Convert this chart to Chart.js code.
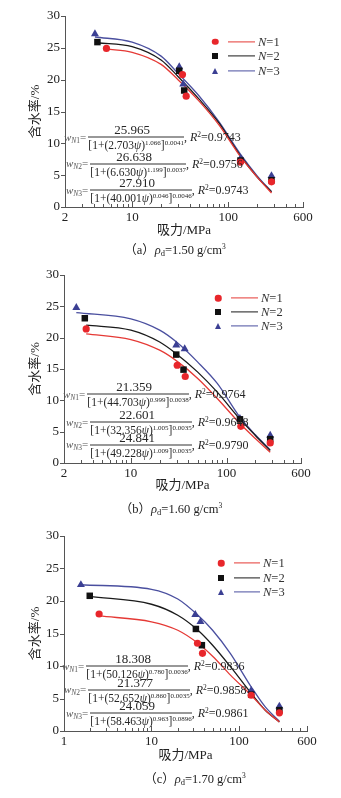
<!DOCTYPE html>
<html>
<head>
<meta charset="utf-8">
<script src="https://cdn.jsdelivr.net/npm/chart.js@4.4.1/dist/chart.umd.min.js"></script>
<style>
  html, body { margin: 0; padding: 0; background: #fff; }
  #wrap { position: relative; width: 341px; height: 798px; overflow: hidden; }
  .panel { position: absolute; left: 0; width: 341px; }
  .panel canvas { position: absolute; left: 0; top: 0; }
  .abs { position: absolute; white-space: nowrap; }
  .eq { display: flex; align-items: center; transform: translateY(-50%);
        font-family: 'Liberation Serif', serif; color: #262626; }
  .lhs { font-size: 11px; margin-right: 2px; color: #555; }
  .lhs sub { font-size: 7.5px; vertical-align: -2px; }
  .frac { display: inline-flex; flex-direction: column; align-items: center; }
  .num { font-size: 13px; line-height: 12px; padding-bottom: 1px; margin-right: 8px; }
  .den { font-size: 11.5px; line-height: 12px; border-top: 1px solid #333; padding-top: 1px; }
  .den sup { font-size: 7px; vertical-align: 4px; line-height: 0; }
  .r2 { font-size: 12px; }
  .r2 sup { font-size: 7.5px; vertical-align: 4px; line-height: 0; }
  .cap { transform: translate(-50%, -50%); font-family: 'Liberation Serif', 'Noto Sans CJK SC', serif;
         font-size: 12.5px; color: #222; }
  .cap sub { font-size: 8.5px; vertical-align: -2px; }
  .cap sup { font-size: 7.5px; vertical-align: 5px; line-height: 0; }
  .lgtext { transform: translateY(-50%); font-family: 'Liberation Serif', serif; font-size: 12.5px; color: #333; }
  .lgline { height: 1.2px; transform: translateY(-50%); }
  .mk { transform: translate(-50%, -50%); }
</style>
</head>
<body>
<div id="wrap"></div>
<script>
// x tick positions and labelled ticks
const xTicks2 = [2, 3, 4, 5, 6, 7, 8, 9, 10, 20, 30, 40, 50, 60, 70, 80, 90, 100, 200, 300, 400, 500, 600];
const xLabels2 = [2, 10, 100, 600];
const xTicks1 = [1, 2, 3, 4, 5, 6, 7, 8, 9, 10, 20, 30, 40, 50, 60, 70, 80, 90, 100, 200, 300, 400, 500, 600];
const xLabels1 = [1, 10, 100, 600];
const seriesNames = ['N=1', 'N=2', 'N=3'];

// (a) rho_d = 1.50 : measured points [N=1, N=2, N=3]
const ptXA = [[5.4, 33.4, 36.5, 134, 282], [4.35, 30.9, 34.8, 134, 282], [4.1, 30.9, 34, 134, 282]];
const ptYA = [[24.9, 20.8, 17.4, 7.05, 3.95], [25.9, 21.4, 18.3, 7.3, 4.2], [27.2, 22.0, 19.3, 7.6, 4.9]];
// (a) fitted curves
const fitXA = [[5.4, 10, 20, 30, 50, 80, 134, 200, 282], [4.35, 10, 20, 30, 50, 80, 134, 200, 282], [4.1, 10, 20, 30, 50, 80, 134, 200, 282]];
const fitYA = [[24.8, 24.3, 22.4, 20.0, 16.6, 12.9, 7.9, 4.7, 2.2], [25.8, 25.2, 23.1, 20.5, 16.9, 13.2, 8.05, 4.7, 2.4], [26.7, 25.9, 23.7, 21.0, 17.4, 13.4, 8.3, 4.9, 2.4]];
const eqA = [['25.965', '2.703', '1.066', '0.0041', '0.9743'], ['26.638', '6.630', '1.199', '0.0037', '0.9756'], ['27.910', '40.001', '0.046', '0.0046', '0.9743']];

// (b) rho_d = 1.60
const ptXB = [[3.41, 30.5, 37, 141, 286], [3.3, 29.8, 35.5, 138, 286], [2.69, 29.8, 36.5, 138, 286]];
const ptYB = [[21.4, 15.6, 13.8, 5.85, 3.2], [23.1, 17.3, 14.9, 6.97, 3.8], [24.8, 18.8, 18.2, 7.1, 4.4]];
const fitXB = [[3.41, 10, 20, 30, 50, 80, 138, 200, 286], [3.41, 10, 20, 30, 50, 80, 138, 200, 286], [2.69, 10, 20, 30, 50, 80, 138, 200, 286]];
const fitYB = [[20.6, 19.7, 18.0, 16.3, 13.5, 10.3, 6.3, 3.9, 1.7], [22.0, 21.2, 19.3, 17.4, 14.5, 11.3, 7.0, 4.4, 2.0], [24.0, 23.0, 21.2, 19.3, 16.1, 12.7, 7.3, 4.5, 2.1]];
const eqB = [['21.359', '44.703', '0.999', '0.0038', '0.9764'], ['22.601', '32.356', '1.005', '0.0035', '0.9648'], ['24.841', '49.228', '1.009', '0.0035', '0.9790']];

// (c) rho_d = 1.70
const ptXC = [[2.52, 33.6, 38.3, 138, 290], [1.97, 32.2, 37.7, 138, 290], [1.56, 31.7, 36.3, 138, 290]];
const ptYC = [[18.0, 13.5, 11.95, 5.5, 2.8], [20.8, 15.7, 13.2, 5.6, 3.2], [22.5, 17.9, 16.8, 6.2, 3.8]];
const fitXC = [[2.52, 10, 20, 34, 50, 80, 138, 200, 290], [1.97, 10, 20, 34, 50, 80, 138, 200, 290], [1.56, 10, 20, 34, 50, 80, 138, 200, 290]];
const fitYC = [[17.7, 16.8, 15.5, 13.5, 11.5, 8.6, 5.5, 3.2, 1.4], [20.7, 19.5, 17.8, 15.5, 13.2, 9.9, 5.8, 3.2, 1.4], [22.5, 21.8, 20.3, 17.8, 15.5, 11.9, 6.8, 3.7, 1.5]];
const eqC = [['18.308', '50.126', '0.780', '0.0036', '0.9836'], ['21.377', '52.652', '0.860', '0.0035', '0.9858'], ['24.059', '58.463', '0.963', '0.0896', '0.9861']];

const dotColors = ['#e8262b', '#111111', '#3b3f93'];
const lineColors = ['#e53935', '#1a1a1a', '#4a4f9f'];
const pointStyles = ['circle', 'rect', 'triangle'];
const pointSizes = [3.6, 4.6, 4.6];

const panels = [
  { top: 0, height: 240, plotLeft: 65, plotRight: 303, plotTop: 16, plotBottom: 207,
    xMin: 2, xMax: 600, ticks: xTicks2, labels: xLabels2,
    ptX: ptXA, ptY: ptYA, fitX: fitXA, fitY: fitYA, eq: eqA, rho: '1.50',
    eqPos: [[64, 137], [66, 163.5], [66, 190]], capPos: [175, 248],
    legend: { rows: [41.5, 56, 71], mk: 215, l1: 228, l2: 255, tx: 258 } },
  { top: 259, height: 236, plotLeft: 64, plotRight: 301, plotTop: 16, plotBottom: 204,
    xMin: 2, xMax: 600, ticks: xTicks2, labels: xLabels2,
    ptX: ptXB, ptY: ptYB, fitX: fitXB, fitY: fitYB, eq: eqB, rho: '1.60',
    eqPos: [[63, 394], [66, 422], [66, 444.5]], capPos: [171, 507],
    legend: { rows: [298, 312, 326], mk: 218, l1: 231, l2: 258, tx: 261 } },
  { top: 520, height: 245, plotLeft: 64, plotRight: 307, plotTop: 16, plotBottom: 211,
    xMin: 1, xMax: 600, ticks: xTicks1, labels: xLabels1,
    ptX: ptXC, ptY: ptYC, fitX: fitXC, fitY: fitYC, eq: eqC, rho: '1.70',
    eqPos: [[62, 666], [64, 689.5], [66, 713]], capPos: [195, 777],
    legend: { rows: [563, 578, 592], mk: 221, l1: 234, l2: 260, tx: 263 } }
];

// short tick marks: x ticks point into the plot, y ticks point outward
const axisTicks = {
  id: 'axisTicks',
  afterDraw(chart, args, opts) {
    const { ctx, chartArea, scales: { x, y } } = chart;
    ctx.save();
    ctx.strokeStyle = '#555';
    ctx.lineWidth = 1;
    x.ticks.forEach(t => {
      const px = Math.round(x.getPixelForValue(t.value)) + 0.5;
      const len = opts.labels.includes(t.value) ? 5 : 3;
      ctx.beginPath();
      ctx.moveTo(px, chartArea.bottom);
      ctx.lineTo(px, chartArea.bottom - len);
      ctx.stroke();
    });
    y.ticks.forEach(t => {
      const py = Math.round(y.getPixelForValue(t.value)) + 0.5;
      ctx.beginPath();
      ctx.moveTo(chartArea.left, py);
      ctx.lineTo(chartArea.left - 4, py);
      ctx.stroke();
    });
    ctx.restore();
  }
};

const tickFont = { family: "'Liberation Serif', serif", size: 13 };
const titleFont = { family: "'Liberation Serif', 'Noto Sans CJK SC', serif", size: 13, lineHeight: 1.2 };

function eqHTML(p, n) {
  return '<span class="lhs"><i>w</i><sub><i>N</i>' + n + '</sub>=</span>' +
    '<span class="frac"><span class="num">' + p[0] + '</span>' +
    '<span class="den">[1+(' + p[1] + '<i>ψ</i>)<sup>' + p[2] + '</sup>]<sup>' + p[3] + '</sup></span></span>' +
    '<span class="r2">, <i>R</i><sup>2</sup>=' + p[4] + '</span>';
}

const wrap = document.getElementById('wrap');
const letters = ['a', 'b', 'c'];

panels.forEach((pn, k) => {
  const div = document.createElement('div');
  div.className = 'panel';
  div.style.top = pn.top + 'px';
  div.style.height = pn.height + 'px';
  const cv = document.createElement('canvas');
  cv.width = 341;
  cv.height = pn.height;
  div.appendChild(cv);
  wrap.appendChild(div);

  const datasets = [];
  for (let i = 0; i < 3; i++) {
    datasets.push({
      label: seriesNames[i] + ' fit',
      data: pn.fitX[i].map((x, j) => ({ x: x, y: pn.fitY[i][j] })),
      showLine: true,
      borderColor: lineColors[i],
      borderWidth: 1.3,
      pointRadius: 0,
      cubicInterpolationMode: 'monotone',
      order: 2
    });
  }
  for (let i = 0; i < 3; i++) {
    datasets.push({
      label: seriesNames[i],
      data: pn.ptX[i].map((x, j) => ({ x: x, y: pn.ptY[i][j] })),
      pointStyle: pointStyles[i],
      pointRadius: pointSizes[i],
      backgroundColor: dotColors[i],
      borderColor: dotColors[i],
      borderWidth: 0,
      order: 1
    });
  }

  new Chart(cv.getContext('2d'), {
    type: 'scatter',
    data: { datasets: datasets },
    plugins: [axisTicks],
    options: {
      responsive: false,
      animation: false,
      layout: { padding: { left: 28, top: pn.plotTop, right: 341 - pn.plotRight, bottom: 2 } },
      plugins: {
        legend: { display: false },
        tooltip: { enabled: false },
        axisTicks: { labels: pn.labels }
      },
      scales: {
        x: {
          type: 'logarithmic',
          min: pn.xMin,
          max: pn.xMax,
          afterBuildTicks: ax => { ax.ticks = pn.ticks.map(v => ({ value: v })); },
          afterFit: s => { s.height = pn.height - 2 - pn.plotBottom; },
          grid: { display: false, drawTicks: false },
          border: { display: true, color: '#555', width: 1 },
          ticks: {
            autoSkip: false, maxRotation: 0, padding: 3, color: '#222', font: tickFont,
            callback: v => (pn.labels.includes(v) ? String(v) : '')
          },
          title: { display: true, text: '吸力/MPa', color: '#222', font: titleFont, padding: 0 }
        },
        y: {
          min: 0,
          max: 30,
          afterFit: s => { s.width = pn.plotLeft - 28; },
          grid: { display: false, drawTicks: false },
          border: { display: true, color: '#555', width: 1 },
          ticks: { stepSize: 5, padding: 5, color: '#222', font: tickFont },
          title: { display: true, text: '含水率/%', color: '#222', font: titleFont, padding: 0 }
        }
      }
    }
  });

  // equations
  pn.eq.forEach((p, i) => {
    const e = document.createElement('div');
    e.className = 'abs eq';
    e.style.left = pn.eqPos[i][0] + 'px';
    e.style.top = pn.eqPos[i][1] + 'px';
    e.innerHTML = eqHTML(p, i + 1);
    wrap.appendChild(e);
  });

  // legend
  const lg = pn.legend;
  for (let i = 0; i < 3; i++) {
    const y = lg.rows[i];
    const mk = document.createElement('div');
    mk.className = 'abs mk';
    mk.style.left = lg.mk + 'px';
    mk.style.top = y + 'px';
    if (i === 0) {
      mk.style.cssText += 'width:6.5px;height:6.5px;border-radius:50%;background:' + dotColors[0];
    } else if (i === 1) {
      mk.style.cssText += 'width:6px;height:6px;background:' + dotColors[1];
    } else {
      mk.style.cssText += 'width:0;height:0;border-left:3.5px solid transparent;border-right:3.5px solid transparent;border-bottom:6.5px solid ' + dotColors[2];
    }
    wrap.appendChild(mk);
    const ln = document.createElement('div');
    ln.className = 'abs lgline';
    ln.style.left = lg.l1 + 'px';
    ln.style.top = y + 'px';
    ln.style.width = (lg.l2 - lg.l1) + 'px';
    ln.style.background = lineColors[i];
    wrap.appendChild(ln);
    const tx = document.createElement('div');
    tx.className = 'abs lgtext';
    tx.style.left = lg.tx + 'px';
    tx.style.top = y + 'px';
    tx.innerHTML = '<i>N</i>=' + (i + 1);
    wrap.appendChild(tx);
  }

  // caption
  const cap = document.createElement('div');
  cap.className = 'abs cap';
  cap.style.left = pn.capPos[0] + 'px';
  cap.style.top = pn.capPos[1] + 'px';
  cap.innerHTML = '（' + letters[k] + '）<i>ρ</i><sub>d</sub>=' + pn.rho + ' g/cm<sup>3</sup>';
  wrap.appendChild(cap);
});
</script>
</body>
</html>
